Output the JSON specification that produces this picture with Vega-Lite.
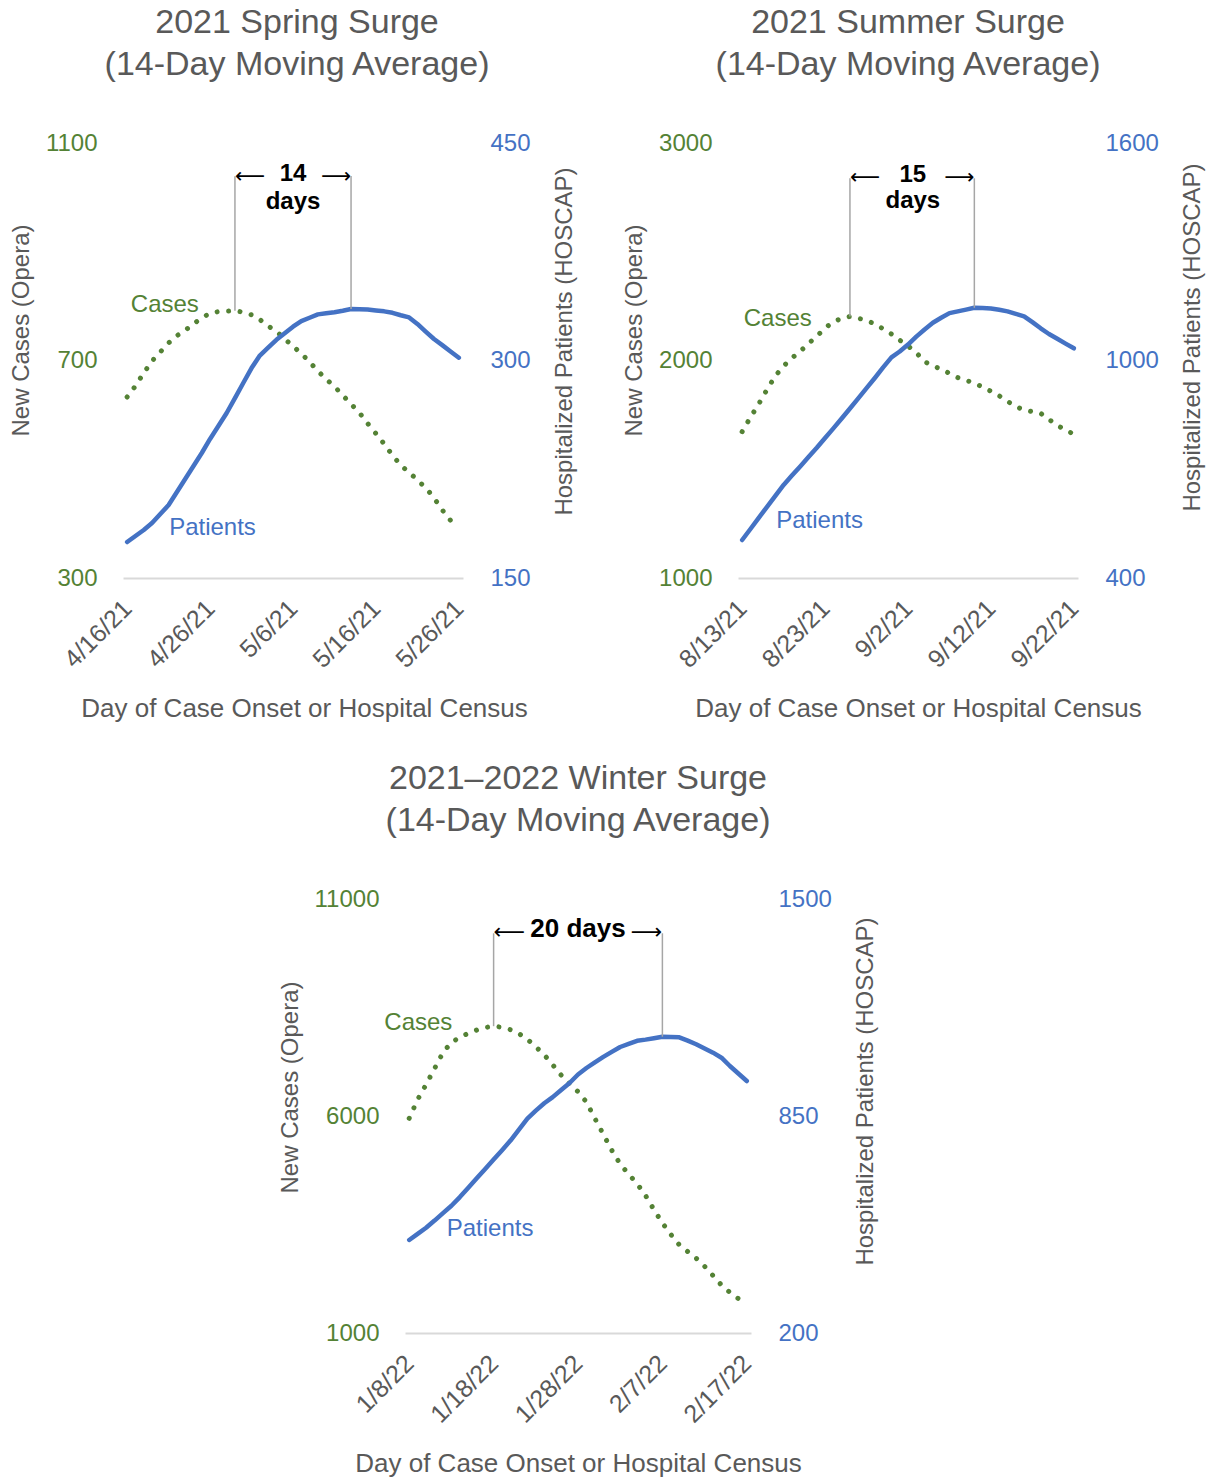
{
  "$schema": "https://vega.github.io/schema/vega-lite/v6.json",
  "padding": {"left": 9, "top": 6, "right": 5, "bottom": 0},
  "spacing": 40,
  "config": {
    "view": {"stroke": null},
    "font": "Liberation Sans",
    "title": {"fontSize": 34, "font": "Liberation Sans", "fontWeight": "normal", "color": "#595959", "lineHeight": 42, "offset": 49, "anchor": "middle"},
    "axis": {"labelFont": "Liberation Sans", "titleFont": "Liberation Sans", "titleFontWeight": "normal", "ticks": false, "grid": false, "domain": false, "labelFontSize": 24, "titleFontSize": 24, "titleColor": "#595959"},
    "axisX": {"labelAngle": -45, "labelAlign": "right", "labelBaseline": "middle", "labelPadding": 26, "labelFontSize": 25, "labelColor": "#595959", "domain": true, "domainColor": "#d9d9d9", "domainWidth": 2, "titleFontSize": 26, "titlePadding": 23},
    "axisLeft": {"labelPadding": 26, "titlePadding": 12, "format": "d"},
    "axisRight": {"labelPadding": 27, "titlePadding": 22, "titleAngle": 270, "titleBaseline": "top", "format": "d"}
  },
  "datasets": {
    "spring": [
      {"date": "2021-04-16", "cases": 632.9, "patients": 174.8},
      {"date": "2021-04-17", "cases": 653.1, "patients": 179.0},
      {"date": "2021-04-18", "cases": 677.0, "patients": 183.1},
      {"date": "2021-04-19", "cases": 699.1, "patients": 187.9},
      {"date": "2021-04-20", "cases": 715.6, "patients": 194.1},
      {"date": "2021-04-21", "cases": 732.2, "patients": 200.3},
      {"date": "2021-04-22", "cases": 745.6, "patients": 209.3},
      {"date": "2021-04-23", "cases": 755.5, "patients": 218.3},
      {"date": "2021-04-24", "cases": 767.5, "patients": 227.2},
      {"date": "2021-04-25", "cases": 778.2, "patients": 236.2},
      {"date": "2021-04-26", "cases": 787.0, "patients": 245.9},
      {"date": "2021-04-27", "cases": 789.9, "patients": 254.8},
      {"date": "2021-04-28", "cases": 790.7, "patients": 263.8},
      {"date": "2021-04-29", "cases": 791.6, "patients": 274.1},
      {"date": "2021-04-30", "cases": 788.8, "patients": 284.5},
      {"date": "2021-05-01", "cases": 783.9, "patients": 294.8},
      {"date": "2021-05-02", "cases": 775.2, "patients": 303.4},
      {"date": "2021-05-03", "cases": 763.4, "patients": 308.9},
      {"date": "2021-05-04", "cases": 753.5, "patients": 314.3},
      {"date": "2021-05-05", "cases": 739.9, "patients": 318.8},
      {"date": "2021-05-06", "cases": 726.1, "patients": 323.3},
      {"date": "2021-05-07", "cases": 712.9, "patients": 327.2},
      {"date": "2021-05-08", "cases": 697.2, "patients": 329.5},
      {"date": "2021-05-09", "cases": 680.7, "patients": 331.8},
      {"date": "2021-05-10", "cases": 665.6, "patients": 332.6},
      {"date": "2021-05-11", "cases": 652.2, "patients": 333.3},
      {"date": "2021-05-12", "cases": 636.0, "patients": 334.3},
      {"date": "2021-05-13", "cases": 620.0, "patients": 335.5},
      {"date": "2021-05-14", "cases": 604.0, "patients": 335.3},
      {"date": "2021-05-15", "cases": 584.1, "patients": 335.2},
      {"date": "2021-05-16", "cases": 565.7, "patients": 334.5},
      {"date": "2021-05-17", "cases": 546.4, "patients": 333.9},
      {"date": "2021-05-18", "cases": 525.7, "patients": 332.9},
      {"date": "2021-05-19", "cases": 507.3, "patients": 331.2},
      {"date": "2021-05-20", "cases": 494.4, "patients": 329.7},
      {"date": "2021-05-21", "cases": 480.2, "patients": 325.2},
      {"date": "2021-05-22", "cases": 465.9, "patients": 319.9},
      {"date": "2021-05-23", "cases": 447.5, "patients": 314.8},
      {"date": "2021-05-24", "cases": 425.1, "patients": 310.6},
      {"date": "2021-05-25", "cases": 405.8, "patients": 306.2},
      {"date": "2021-05-26", "cases": null, "patients": 301.9}
    ],
    "summer": [
      {"date": "2021-08-13", "cases": 1672.6, "patients": 504.8},
      {"date": "2021-08-14", "cases": 1738.3, "patients": 535.2},
      {"date": "2021-08-15", "cases": 1799.9, "patients": 566.1},
      {"date": "2021-08-16", "cases": 1866.6, "patients": 596.4},
      {"date": "2021-08-17", "cases": 1928.7, "patients": 626.8},
      {"date": "2021-08-18", "cases": 1974.7, "patients": 656.6},
      {"date": "2021-08-19", "cases": 2011.4, "patients": 682.5},
      {"date": "2021-08-20", "cases": 2041.8, "patients": 707.9},
      {"date": "2021-08-21", "cases": 2078.6, "patients": 733.8},
      {"date": "2021-08-22", "cases": 2111.2, "patients": 759.2},
      {"date": "2021-08-23", "cases": 2149.4, "patients": 786.2},
      {"date": "2021-08-24", "cases": 2177.4, "patients": 812.7},
      {"date": "2021-08-25", "cases": 2193.9, "patients": 840.0},
      {"date": "2021-08-26", "cases": 2202.7, "patients": 867.6},
      {"date": "2021-08-27", "cases": 2194.4, "patients": 895.7},
      {"date": "2021-08-28", "cases": 2183.8, "patients": 923.6},
      {"date": "2021-08-29", "cases": 2168.2, "patients": 951.7},
      {"date": "2021-08-30", "cases": 2145.7, "patients": 980.9},
      {"date": "2021-08-31", "cases": 2121.8, "patients": 1008.6},
      {"date": "2021-09-01", "cases": 2093.7, "patients": 1024.8},
      {"date": "2021-09-02", "cases": 2066.6, "patients": 1044.1},
      {"date": "2021-09-03", "cases": 2035.8, "patients": 1065.9},
      {"date": "2021-09-04", "cases": 1994.9, "patients": 1085.5},
      {"date": "2021-09-05", "cases": 1974.7, "patients": 1104.0},
      {"date": "2021-09-06", "cases": 1960.9, "patients": 1117.8},
      {"date": "2021-09-07", "cases": 1940.6, "patients": 1130.8},
      {"date": "2021-09-08", "cases": 1921.3, "patients": 1135.4},
      {"date": "2021-09-09", "cases": 1908.9, "patients": 1140.4},
      {"date": "2021-09-10", "cases": 1895.6, "patients": 1145.4},
      {"date": "2021-09-11", "cases": 1878.1, "patients": 1145.0},
      {"date": "2021-09-12", "cases": 1858.3, "patients": 1143.5},
      {"date": "2021-09-13", "cases": 1837.6, "patients": 1139.9},
      {"date": "2021-09-14", "cases": 1812.8, "patients": 1135.4},
      {"date": "2021-09-15", "cases": 1788.0, "patients": 1128.6},
      {"date": "2021-09-16", "cases": 1773.3, "patients": 1121.9},
      {"date": "2021-09-17", "cases": 1764.5, "patients": 1105.9},
      {"date": "2021-09-18", "cases": 1757.2, "patients": 1088.8},
      {"date": "2021-09-19", "cases": 1729.1, "patients": 1073.1},
      {"date": "2021-09-20", "cases": 1701.1, "patients": 1059.9},
      {"date": "2021-09-21", "cases": 1681.3, "patients": 1046.6},
      {"date": "2021-09-22", "cases": 1660.6, "patients": 1033.7}
    ],
    "winter": [
      {"date": "2022-01-08", "cases": 5947, "patients": 478.6},
      {"date": "2022-01-09", "cases": 6380, "patients": 496.8},
      {"date": "2022-01-10", "cases": 6726, "patients": 515.4},
      {"date": "2022-01-11", "cases": 7092, "patients": 536.7},
      {"date": "2022-01-12", "cases": 7463, "patients": 559.2},
      {"date": "2022-01-13", "cases": 7694, "patients": 581.0},
      {"date": "2022-01-14", "cases": 7814, "patients": 607.1},
      {"date": "2022-01-15", "cases": 7906, "patients": 635.2},
      {"date": "2022-01-16", "cases": 7982, "patients": 663.4},
      {"date": "2022-01-17", "cases": 8039, "patients": 691.5},
      {"date": "2022-01-18", "cases": 8069, "patients": 719.7},
      {"date": "2022-01-19", "cases": 8044, "patients": 747.6},
      {"date": "2022-01-20", "cases": 7989, "patients": 776.5},
      {"date": "2022-01-21", "cases": 7899, "patients": 809.0},
      {"date": "2022-01-22", "cases": 7768, "patients": 842.0},
      {"date": "2022-01-23", "cases": 7595, "patients": 866.0},
      {"date": "2022-01-24", "cases": 7410, "patients": 888.1},
      {"date": "2022-01-25", "cases": 7180, "patients": 906.6},
      {"date": "2022-01-26", "cases": 6943, "patients": 927.9},
      {"date": "2022-01-27", "cases": 6742, "patients": 948.8},
      {"date": "2022-01-28", "cases": 6562, "patients": 974.3},
      {"date": "2022-01-29", "cases": 6320, "patients": 993.8},
      {"date": "2022-01-30", "cases": 5943, "patients": 1010.9},
      {"date": "2022-01-31", "cases": 5579, "patients": 1027.0},
      {"date": "2022-02-01", "cases": 5210, "patients": 1042.0},
      {"date": "2022-02-02", "cases": 4892, "patients": 1056.7},
      {"date": "2022-02-03", "cases": 4657, "patients": 1065.9},
      {"date": "2022-02-04", "cases": 4441, "patients": 1075.2},
      {"date": "2022-02-05", "cases": 4169, "patients": 1078.8},
      {"date": "2022-02-06", "cases": 3841, "patients": 1083.0},
      {"date": "2022-02-07", "cases": 3535, "patients": 1087.5},
      {"date": "2022-02-08", "cases": 3270, "patients": 1086.6},
      {"date": "2022-02-09", "cases": 3031, "patients": 1085.7},
      {"date": "2022-02-10", "cases": 2876, "patients": 1075.6},
      {"date": "2022-02-11", "cases": 2724, "patients": 1064.8},
      {"date": "2022-02-12", "cases": 2537, "patients": 1052.2},
      {"date": "2022-02-13", "cases": 2321, "patients": 1039.7},
      {"date": "2022-02-14", "cases": 2102, "patients": 1024.6},
      {"date": "2022-02-15", "cases": 1934, "patients": 999.8},
      {"date": "2022-02-16", "cases": 1793, "patients": 977.3},
      {"date": "2022-02-17", "cases": 1646, "patients": 954.8}
    ]
  },
  "vconcat": [
    {
      "spacing": 45,
      "hconcat": [
        {
          "title": {"text": ["2021 Spring Surge", "(14-Day Moving Average)"], "dx": 4},
          "width": 340, "height": 435,
          "resolve": {"scale": {"y": "independent"}},
          "layer": [
            {"layer": [
              {"data": {"name": "spring"},
               "mark": {"type": "line", "color": "#548235", "strokeWidth": 5, "strokeDash": [0.01, 11.5], "strokeCap": "round"},
               "encoding": {
                 "x": {"field": "date", "type": "temporal", "scale": {"type": "utc", "domain": [{"year": 2021, "month": 4, "date": 15, "hours": 12, "utc": true}, {"year": 2021, "month": 5, "date": 26, "hours": 12, "utc": true}]},
                       "axis": {"title": "Day of Case Onset or Hospital Census", "format": "%-m/%-d/%y", "titleX": 181,
                                "values": [{"year": 2021, "month": 4, "date": 16, "utc": true}, {"year": 2021, "month": 4, "date": 26, "utc": true}, {"year": 2021, "month": 5, "date": 6, "utc": true}, {"year": 2021, "month": 5, "date": 16, "utc": true}, {"year": 2021, "month": 5, "date": 26, "utc": true}]}},
                 "y": {"field": "cases", "type": "quantitative", "scale": {"domain": [300, 1100], "nice": false, "zero": false},
                       "axis": {"orient": "left", "values": [300, 700, 1100], "title": "New Cases (Opera)", "labelColor": "#548235", "titleY": 187}}
               }},
              {"data": {"values": [{"date": "2021-04-29", "y": 791.6, "y2": 1039}]},
               "mark": {"type": "rule", "color": "#a6a6a6", "strokeWidth": 1.5},
               "encoding": {
                 "x": {"field": "date", "type": "temporal"},
                 "y": {"field": "y", "type": "quantitative"},
                 "y2": {"field": "y2"}
               }},
              {"data": {"values": [{"date": "2021-05-06", "y": 1043, "t": "14"}, {"date": "2021-05-06", "y": 991, "t": "days"}]},
               "mark": {"type": "text", "font": "Liberation Sans", "fontWeight": "bold", "fontSize": 24, "color": "#000000", "baseline": "middle"},
               "encoding": {
                 "x": {"field": "date", "type": "temporal"},
                 "y": {"field": "y", "type": "quantitative"},
                 "text": {"field": "t"}
               }},
              {"data": {"values": [{"date": "2021-04-29", "y": 1038, "t": "⟵"}]},
               "mark": {"type": "text", "font": "DejaVu Sans", "fontSize": 21, "color": "#000000", "baseline": "middle", "align": "left"},
               "encoding": {
                 "x": {"field": "date", "type": "temporal"},
                 "y": {"field": "y", "type": "quantitative"},
                 "text": {"field": "t"}
               }},
              {"data": {"values": [{"date": "2021-05-13", "y": 1038, "t": "⟶"}]},
               "mark": {"type": "text", "font": "DejaVu Sans", "fontSize": 21, "color": "#000000", "baseline": "middle", "align": "right"},
               "encoding": {
                 "x": {"field": "date", "type": "temporal"},
                 "y": {"field": "y", "type": "quantitative"},
                 "text": {"field": "t"}
               }},
              {"data": {"values": [{"date": "2021-04-20T13:00:00Z", "y": 802, "t": "Cases"}]},
               "mark": {"type": "text", "font": "Liberation Sans", "fontSize": 24, "color": "#548235", "baseline": "middle"},
               "encoding": {
                 "x": {"field": "date", "type": "temporal"},
                 "y": {"field": "y", "type": "quantitative"},
                 "text": {"field": "t"}
               }}
            ]},
            {"layer": [
              {"data": {"name": "spring"},
               "mark": {"type": "line", "color": "#4472C4", "strokeWidth": 4.5, "strokeCap": "round", "strokeJoin": "round"},
               "encoding": {
                 "x": {"field": "date", "type": "temporal"},
                 "y": {"field": "patients", "type": "quantitative", "scale": {"domain": [150, 450], "nice": false, "zero": false},
                       "axis": {"orient": "right", "values": [150, 300, 450], "title": "Hospitalized Patients (HOSCAP)", "labelColor": "#4472C4", "titleY": 198}}
               }},
              {"data": {"values": [{"date": "2021-05-13", "y": 335.5, "y2": 427.2}]},
               "mark": {"type": "rule", "color": "#a6a6a6", "strokeWidth": 1.5},
               "encoding": {
                 "x": {"field": "date", "type": "temporal"},
                 "y": {"field": "y", "type": "quantitative"},
                 "y2": {"field": "y2"}
               }},
              {"data": {"values": [{"date": "2021-04-26T07:00:00Z", "y": 184.8, "t": "Patients"}]},
               "mark": {"type": "text", "font": "Liberation Sans", "fontSize": 24, "color": "#4472C4", "baseline": "middle"},
               "encoding": {
                 "x": {"field": "date", "type": "temporal"},
                 "y": {"field": "y", "type": "quantitative"},
                 "text": {"field": "t"}
               }}
            ]}
          ]
        },
        {
          "title": {"text": ["2021 Summer Surge", "(14-Day Moving Average)"]},
          "width": 340, "height": 435,
          "resolve": {"scale": {"y": "independent"}},
          "layer": [
            {"layer": [
              {"data": {"name": "summer"},
               "mark": {"type": "line", "color": "#548235", "strokeWidth": 5, "strokeDash": [0.01, 11.5], "strokeCap": "round"},
               "encoding": {
                 "x": {"field": "date", "type": "temporal", "scale": {"type": "utc", "domain": [{"year": 2021, "month": 8, "date": 12, "hours": 12, "utc": true}, {"year": 2021, "month": 9, "date": 22, "hours": 12, "utc": true}]},
                       "axis": {"title": "Day of Case Onset or Hospital Census", "format": "%-m/%-d/%y", "titleX": 180,
                                "values": [{"year": 2021, "month": 8, "date": 13, "utc": true}, {"year": 2021, "month": 8, "date": 23, "utc": true}, {"year": 2021, "month": 9, "date": 2, "utc": true}, {"year": 2021, "month": 9, "date": 12, "utc": true}, {"year": 2021, "month": 9, "date": 22, "utc": true}]}},
                 "y": {"field": "cases", "type": "quantitative", "scale": {"domain": [1000, 3000], "nice": false, "zero": false},
                       "axis": {"orient": "left", "values": [1000, 2000, 3000], "title": "New Cases (Opera)", "labelColor": "#548235", "titleY": 187}}
               }},
              {"data": {"values": [{"date": "2021-08-26", "y": 2202.7, "y2": 2837.7}]},
               "mark": {"type": "rule", "color": "#a6a6a6", "strokeWidth": 1.5},
               "encoding": {
                 "x": {"field": "date", "type": "temporal"},
                 "y": {"field": "y", "type": "quantitative"},
                 "y2": {"field": "y2"}
               }},
              {"data": {"values": [{"date": "2021-09-02T14:00:00Z", "y": 2853, "t": "15"}, {"date": "2021-09-02T14:00:00Z", "y": 2733, "t": "days"}]},
               "mark": {"type": "text", "font": "Liberation Sans", "fontWeight": "bold", "fontSize": 24, "color": "#000000", "baseline": "middle"},
               "encoding": {
                 "x": {"field": "date", "type": "temporal"},
                 "y": {"field": "y", "type": "quantitative"},
                 "text": {"field": "t"}
               }},
              {"data": {"values": [{"date": "2021-08-26", "y": 2838, "t": "⟵"}]},
               "mark": {"type": "text", "font": "DejaVu Sans", "fontSize": 21, "color": "#000000", "baseline": "middle", "align": "left"},
               "encoding": {
                 "x": {"field": "date", "type": "temporal"},
                 "y": {"field": "y", "type": "quantitative"},
                 "text": {"field": "t"}
               }},
              {"data": {"values": [{"date": "2021-09-10", "y": 2838, "t": "⟶"}]},
               "mark": {"type": "text", "font": "DejaVu Sans", "fontSize": 21, "color": "#000000", "baseline": "middle", "align": "right"},
               "encoding": {
                 "x": {"field": "date", "type": "temporal"},
                 "y": {"field": "y", "type": "quantitative"},
                 "text": {"field": "t"}
               }},
              {"data": {"values": [{"date": "2021-08-17T07:00:00Z", "y": 2190.8, "t": "Cases"}]},
               "mark": {"type": "text", "font": "Liberation Sans", "fontSize": 24, "color": "#548235", "baseline": "middle"},
               "encoding": {
                 "x": {"field": "date", "type": "temporal"},
                 "y": {"field": "y", "type": "quantitative"},
                 "text": {"field": "t"}
               }}
            ]},
            {"layer": [
              {"data": {"name": "summer"},
               "mark": {"type": "line", "color": "#4472C4", "strokeWidth": 4.5, "strokeCap": "round", "strokeJoin": "round"},
               "encoding": {
                 "x": {"field": "date", "type": "temporal"},
                 "y": {"field": "patients", "type": "quantitative", "scale": {"domain": [400, 1600], "nice": false, "zero": false},
                       "axis": {"orient": "right", "values": [400, 1000, 1600], "title": "Hospitalized Patients (HOSCAP)", "labelColor": "#4472C4", "titleY": 194}}
               }},
              {"data": {"values": [{"date": "2021-09-10", "y": 1145.4, "y2": 1502.6}]},
               "mark": {"type": "rule", "color": "#a6a6a6", "strokeWidth": 1.5},
               "encoding": {
                 "x": {"field": "date", "type": "temporal"},
                 "y": {"field": "y", "type": "quantitative"},
                 "y2": {"field": "y2"}
               }},
              {"data": {"values": [{"date": "2021-08-22T08:00:00Z", "y": 557.2, "t": "Patients"}]},
               "mark": {"type": "text", "font": "Liberation Sans", "fontSize": 24, "color": "#4472C4", "baseline": "middle"},
               "encoding": {
                 "x": {"field": "date", "type": "temporal"},
                 "y": {"field": "y", "type": "quantitative"},
                 "text": {"field": "t"}
               }}
            ]}
          ]
        }
      ]
    },
    {
      "spacing": 0,
      "hconcat": [
        {"width": 155, "height": 1, "data": {"values": [{"s": ""}]}, "mark": {"type": "text"}, "encoding": {"text": {"field": "s"}}},
        {
          "title": {"text": ["2021–2022 Winter Surge", "(14-Day Moving Average)"]},
          "width": 346, "height": 434,
          "resolve": {"scale": {"y": "independent"}},
          "layer": [
            {"layer": [
              {"data": {"name": "winter"},
               "mark": {"type": "line", "color": "#548235", "strokeWidth": 5, "strokeDash": [0.01, 11.5], "strokeCap": "round"},
               "encoding": {
                 "x": {"field": "date", "type": "temporal", "scale": {"type": "utc", "domain": [{"year": 2022, "month": 1, "date": 7, "hours": 12, "utc": true}, {"year": 2022, "month": 2, "date": 17, "hours": 12, "utc": true}]},
                       "axis": {"title": "Day of Case Onset or Hospital Census", "format": "%-m/%-d/%y",
                                "values": [{"year": 2022, "month": 1, "date": 8, "utc": true}, {"year": 2022, "month": 1, "date": 18, "utc": true}, {"year": 2022, "month": 1, "date": 28, "utc": true}, {"year": 2022, "month": 2, "date": 7, "utc": true}, {"year": 2022, "month": 2, "date": 17, "utc": true}]}},
                 "y": {"field": "cases", "type": "quantitative", "scale": {"domain": [1000, 11000], "nice": false, "zero": false},
                       "axis": {"orient": "left", "values": [1000, 6000, 11000], "title": "New Cases (Opera)", "labelColor": "#548235", "titleY": 188}}
               }},
              {"data": {"values": [{"date": "2022-01-18", "y": 8069, "y2": 10209}]},
               "mark": {"type": "rule", "color": "#a6a6a6", "strokeWidth": 1.5},
               "encoding": {
                 "x": {"field": "date", "type": "temporal"},
                 "y": {"field": "y", "type": "quantitative"},
                 "y2": {"field": "y2"}
               }},
              {"data": {"values": [{"date": "2022-01-28", "y": 10320, "t": "20 days"}]},
               "mark": {"type": "text", "font": "Liberation Sans", "fontWeight": "bold", "fontSize": 26, "color": "#000000", "baseline": "middle"},
               "encoding": {
                 "x": {"field": "date", "type": "temporal"},
                 "y": {"field": "y", "type": "quantitative"},
                 "text": {"field": "t"}
               }},
              {"data": {"values": [{"date": "2022-01-18", "y": 10247, "t": "⟵"}]},
               "mark": {"type": "text", "font": "DejaVu Sans", "fontSize": 22, "color": "#000000", "baseline": "middle", "align": "left"},
               "encoding": {
                 "x": {"field": "date", "type": "temporal"},
                 "y": {"field": "y", "type": "quantitative"},
                 "text": {"field": "t"}
               }},
              {"data": {"values": [{"date": "2022-02-07", "y": 10247, "t": "⟶"}]},
               "mark": {"type": "text", "font": "DejaVu Sans", "fontSize": 22, "color": "#000000", "baseline": "middle", "align": "right"},
               "encoding": {
                 "x": {"field": "date", "type": "temporal"},
                 "y": {"field": "y", "type": "quantitative"},
                 "text": {"field": "t"}
               }},
              {"data": {"values": [{"date": "2022-01-09T02:00:00Z", "y": 8143, "t": "Cases"}]},
               "mark": {"type": "text", "font": "Liberation Sans", "fontSize": 24, "color": "#548235", "baseline": "middle"},
               "encoding": {
                 "x": {"field": "date", "type": "temporal"},
                 "y": {"field": "y", "type": "quantitative"},
                 "text": {"field": "t"}
               }}
            ]},
            {"layer": [
              {"data": {"name": "winter"},
               "mark": {"type": "line", "color": "#4472C4", "strokeWidth": 4.5, "strokeCap": "round", "strokeJoin": "round"},
               "encoding": {
                 "x": {"field": "date", "type": "temporal"},
                 "y": {"field": "patients", "type": "quantitative", "scale": {"domain": [200, 1500], "nice": false, "zero": false},
                       "axis": {"orient": "right", "values": [200, 850, 1500], "title": "Hospitalized Patients (HOSCAP)", "labelColor": "#4472C4", "titleY": 192}}
               }},
              {"data": {"values": [{"date": "2022-02-07", "y": 1087.5, "y2": 1397.3}]},
               "mark": {"type": "rule", "color": "#a6a6a6", "strokeWidth": 1.5},
               "encoding": {
                 "x": {"field": "date", "type": "temporal"},
                 "y": {"field": "y", "type": "quantitative"},
                 "y2": {"field": "y2"}
               }},
              {"data": {"values": [{"date": "2022-01-17T14:00:00Z", "y": 511.5, "t": "Patients"}]},
               "mark": {"type": "text", "font": "Liberation Sans", "fontSize": 24, "color": "#4472C4", "baseline": "middle"},
               "encoding": {
                 "x": {"field": "date", "type": "temporal"},
                 "y": {"field": "y", "type": "quantitative"},
                 "text": {"field": "t"}
               }}
            ]}
          ]
        }
      ]
    }
  ]
}
